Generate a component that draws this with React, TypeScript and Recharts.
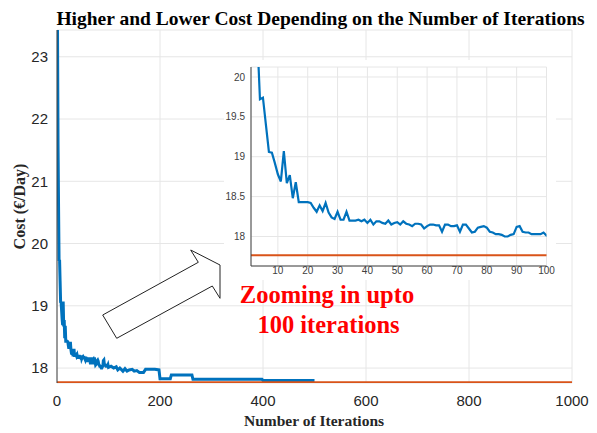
import React from "react";
import { LineChart, Line, XAxis, YAxis, CartesianGrid } from "recharts";

// Higher cost per iteration, iterations 1..100
const costFirst100 = [
  23.43, 21.6, 20.6, 19.72, 19.74, 19.4, 19.06, 19.05, 18.92, 18.78,
  18.69, 19.07, 18.67, 18.77, 18.48, 18.68, 18.43, 18.43, 18.43, 18.43,
  18.42, 18.36, 18.31, 18.39, 18.32, 18.42, 18.3, 18.24, 18.22, 18.31,
  18.21, 18.21, 18.31, 18.2, 18.2, 18.2, 18.21, 18.19, 18.21, 18.17,
  18.21, 18.15, 18.19, 18.19, 18.17, 18.16, 18.2, 18.15, 18.17, 18.18,
  18.15, 18.19, 18.16, 18.15, 18.13, 18.16, 18.16, 18.15, 18.1, 18.13,
  18.15, 18.15, 18.14, 18.14, 18.06, 18.15, 18.15, 18.13, 18.13, 18.14,
  18.06, 18.15, 18.15, 18.1, 18.05, 18.06, 18.11, 18.12, 18.13, 18.11,
  18.06, 18.05, 18.03, 18.03, 18.02, 18.0, 18.0, 18.02, 18.03, 18.12,
  18.13, 18.06, 18.05, 18.05, 18.03, 18.03, 18.03, 18.03, 18.05, 18.01,
];

// Higher cost after iteration 100
const laterIterations = [105, 110, 115, 118, 122, 128, 132, 136, 140, 146, 150, 155, 160, 168, 172, 190, 198, 200, 220, 222, 262, 264, 398, 400, 500];
const laterCost = [18.03, 18.0, 18.02, 17.97, 18.0, 17.95, 17.99, 17.95, 17.97, 17.98, 17.95, 17.96, 17.93, 17.93, 17.98, 17.98, 17.97, 17.83, 17.83, 17.89, 17.89, 17.82, 17.82, 17.8, 17.8];

// Lower cost (constant)
const lowerCostIterations = [0, 1000];
const lowerCostValue = 17.765;

const mainXTicks = [0, 200, 400, 600, 800, 1000];
const mainYTicks = [18, 19, 20, 21, 22, 23];
const insetXTicks = [10, 20, 30, 40, 50, 60, 70, 80, 90, 100];
const insetYTicks = [18, 18.5, 19, 19.5, 20];

const higherData = [
  ...costFirst100.map((c, idx) => ({ it: idx + 1, cost: c })),
  ...laterIterations.map((it, idx) => ({ it, cost: laterCost[idx] })),
];
const lowerData = lowerCostIterations.map((it) => ({ it, cost: lowerCostValue }));

const BLUE = "#0072BD";
const ORANGE = "#D95319";
const SANS = "'Liberation Sans', Arial, Helvetica, sans-serif";
const SERIF = "'Liberation Serif', 'Times New Roman', serif";

export default function App() {
  return (
    <div style={{ position: "absolute", left: 0, top: 0, width: 597, height: 433, background: "#fff" }}>
      <div style={{ position: "absolute", left: 0, top: 0 }}>
        <LineChart width={597} height={433} margin={{ top: 30, right: 25, bottom: 0, left: 0 }}>
          <CartesianGrid stroke="#e6e6e6" strokeWidth={1} />
          <XAxis
            dataKey="it"
            type="number"
            domain={[0, 1000]}
            ticks={mainXTicks}
            allowDataOverflow
            height={50}
            tickSize={0}
            tickMargin={12}
            axisLine={false}
            tick={{ fill: "#262626", fontSize: 15, fontFamily: SANS }}
          />
          <XAxis
            xAxisId="top"
            orientation="top"
            type="number"
            domain={[0, 1000]}
            height={0}
            tick={false}
            tickLine={false}
            axisLine={{ stroke: "#808080" }}
          />
          <YAxis
            type="number"
            domain={[17.76, 23.43]}
            ticks={mainYTicks}
            allowDataOverflow
            width={57}
            tickSize={0}
            tickMargin={9}
            axisLine={{ stroke: "#404040" }}
            tick={{ fill: "#262626", fontSize: 15, fontFamily: SANS }}
          />
          <YAxis
            yAxisId="right"
            orientation="right"
            type="number"
            domain={[17.76, 23.43]}
            width={0}
            tick={false}
            tickLine={false}
            axisLine={{ stroke: "#808080" }}
          />
          <Line data={higherData} dataKey="cost" stroke={BLUE} strokeWidth={3} dot={false} isAnimationActive={false} />
          <Line data={lowerData} dataKey="cost" stroke={ORANGE} strokeWidth={3} dot={false} isAnimationActive={false} />
        </LineChart>
      </div>

      <div style={{ position: "absolute", left: 224, top: 60, width: 332, height: 220, background: "#fff" }}>
        <LineChart width={332} height={220} margin={{ top: 7, right: 9.5, bottom: 0, left: 0 }}>
          <CartesianGrid stroke="#e6e6e6" strokeWidth={1} />
          <XAxis
            dataKey="it"
            type="number"
            domain={[1, 100]}
            ticks={insetXTicks}
            allowDataOverflow
            height={14}
            tickSize={0}
            tickMargin={1}
            axisLine={{ stroke: "#404040" }}
            tick={{ fill: "#404040", fontSize: 10, fontFamily: SANS }}
          />
          <XAxis
            xAxisId="top"
            orientation="top"
            type="number"
            domain={[1, 100]}
            height={0}
            tick={false}
            tickLine={false}
            axisLine={{ stroke: "#808080" }}
          />
          <YAxis
            type="number"
            domain={[17.63, 20.125]}
            ticks={insetYTicks}
            allowDataOverflow
            width={27}
            tickSize={0}
            tickMargin={6}
            axisLine={{ stroke: "#404040" }}
            tick={{ fill: "#404040", fontSize: 10, fontFamily: SANS }}
          />
          <YAxis
            yAxisId="right"
            orientation="right"
            type="number"
            domain={[17.63, 20.125]}
            width={0}
            tick={false}
            tickLine={false}
            axisLine={{ stroke: "#808080" }}
          />
          <Line data={higherData} dataKey="cost" stroke={BLUE} strokeWidth={2.2} dot={false} isAnimationActive={false} />
          <Line data={lowerData} dataKey="cost" stroke={ORANGE} strokeWidth={2.2} dot={false} isAnimationActive={false} />
        </LineChart>
      </div>

      <svg width={597} height={433} style={{ position: "absolute", left: 0, top: 0, pointerEvents: "none" }}>
        <text x={320.5} y={25} textAnchor="middle" fontFamily={SERIF} fontWeight="bold" fontSize={19.5} fill="#000">
          Higher and Lower Cost Depending on the Number of Iterations
        </text>
        <text x={314} y={426} textAnchor="middle" fontFamily={SERIF} fontWeight="bold" fontSize={15.5} fill="#262626">
          Number of Iterations
        </text>
        <text
          x={0}
          y={0}
          transform="translate(25, 206.5) rotate(-90)"
          textAnchor="middle"
          fontFamily={SERIF}
          fontWeight="bold"
          fontSize={16}
          fill="#262626"
        >
          Cost (€/Day)
        </text>
        <polygon
          points="102.7,315 198.3,262.3 190.7,250 220,265 220,298.3 212.3,286 116.7,338.3"
          fill="#fff"
          stroke="#222"
          strokeWidth={1}
        />
        <text x={327} y={303} textAnchor="middle" fontFamily={SERIF} fontWeight="bold" fontSize={24.5} fill="#ff0000">
          Zooming in upto
        </text>
        <text x={328.5} y={332.5} textAnchor="middle" fontFamily={SERIF} fontWeight="bold" fontSize={24.5} fill="#ff0000">
          100 iterations
        </text>
      </svg>
    </div>
  );
}
